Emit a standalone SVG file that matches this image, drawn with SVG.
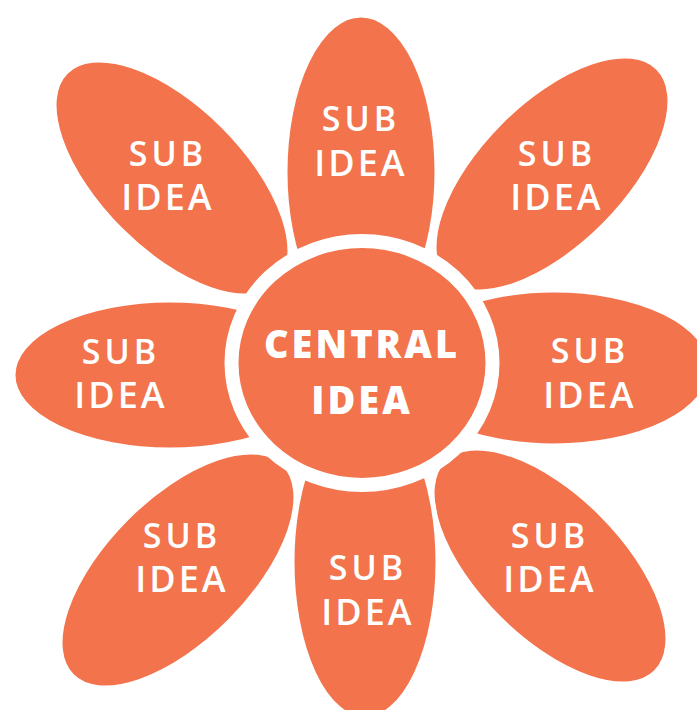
<svg xmlns="http://www.w3.org/2000/svg" width="697" height="710" viewBox="0 0 697 710">
<style>
.petal{fill:#F2734C;stroke:#FFFFFF;stroke-width:5}
.core{fill:#F2734C;stroke:#FFFFFF;stroke-width:14}
.sub{font-family:"Open Sans","Liberation Sans",sans-serif;font-weight:600;fill:#FFFFFF;text-anchor:middle}
.s1{font-size:34px;letter-spacing:4px}
.s2{font-size:36px;letter-spacing:3px}
.cen{font-family:"Open Sans","Liberation Sans",sans-serif;font-weight:800;fill:#FFFFFF;text-anchor:middle;font-size:38px;letter-spacing:3px}
</style>
<rect width="697" height="710" fill="#FFFFFF"/>
<g id="petal-upper-left"><ellipse class="petal" cx="172" cy="178" rx="73" ry="150" transform="rotate(-45 172 178)"/></g>
<g id="petal-upper-right"><ellipse class="petal" cx="552" cy="174" rx="73" ry="150" transform="rotate(45 552 174)"/></g>
<g id="petal-lower-left"><ellipse class="petal" cx="178" cy="570" rx="73" ry="150" transform="rotate(45 178 570)"/></g>
<g id="petal-lower-right"><ellipse class="petal" cx="550" cy="566" rx="73" ry="150" transform="rotate(-45 550 566)"/></g>
<g id="petal-top"><ellipse class="petal" cx="361" cy="172" rx="76" ry="157"/></g>
<g id="petal-bottom"><ellipse class="petal" cx="365" cy="562" rx="73" ry="157"/></g>
<g id="petal-left"><ellipse class="petal" cx="170" cy="375" rx="157" ry="75"/></g>
<g id="petal-right"><ellipse class="petal" cx="554" cy="368" rx="157" ry="78"/></g>
<g id="central"><ellipse class="core" cx="362" cy="363" rx="130.5" ry="122"/>
<text class="cen" x="362" y="358">CENTRAL</text>
<text class="cen" x="362" y="414">IDEA</text></g>
<g id="labels">
<text class="sub s1" x="361" y="131">SUB</text><text class="sub s2" x="361" y="176">IDEA</text>
<text class="sub s1" x="168" y="166">SUB</text><text class="sub s2" x="168" y="210">IDEA</text>
<text class="sub s1" x="557" y="166">SUB</text><text class="sub s2" x="557" y="210">IDEA</text>
<text class="sub s1" x="121" y="364">SUB</text><text class="sub s2" x="121" y="408">IDEA</text>
<text class="sub s1" x="590" y="363">SUB</text><text class="sub s2" x="590" y="408">IDEA</text>
<text class="sub s1" x="182" y="548">SUB</text><text class="sub s2" x="182" y="592">IDEA</text>
<text class="sub s1" x="550" y="548">SUB</text><text class="sub s2" x="550" y="592">IDEA</text>
<text class="sub s1" x="368" y="580">SUB</text><text class="sub s2" x="368" y="625">IDEA</text>
</g>
<g id="connectors"/>
</svg>
